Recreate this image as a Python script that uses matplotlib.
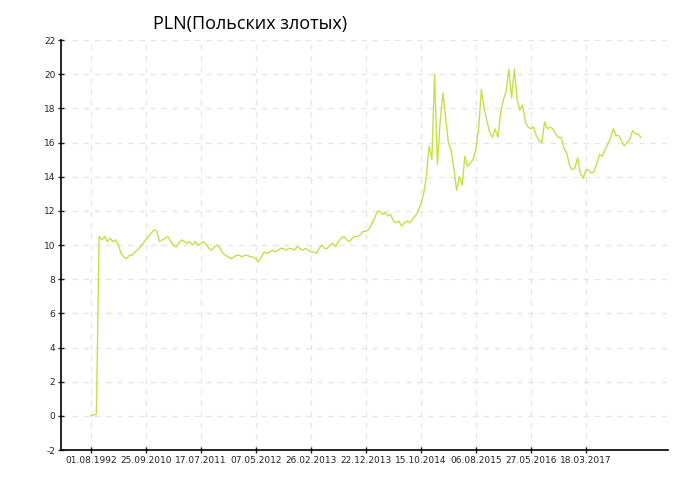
import matplotlib
matplotlib.use("Agg")
import matplotlib.pyplot as plt


# ------------------------------------------------------------
# Daten (20 Werte je Tick-Abschnitt)
# ------------------------------------------------------------
TITLE = "PLN(Польских злотых)"

tick_labels = [
    "01.08.1992", "25.09.2010", "17.07.2011", "07.05.2012", "26.02.2013",
    "22.12.2013", "15.10.2014", "06.08.2015", "27.05.2016", "18.03.2017",
]

seg_1 = [0.0, 0.05, 0.1, 10.5, 10.3, 10.5, 10.2, 10.4, 10.2, 10.3,
         10.0, 9.5, 9.3, 9.2, 9.4, 9.4, 9.6, 9.7, 9.9, 10.1]
seg_2 = [10.3, 10.5, 10.7, 10.9, 10.8, 10.2, 10.3, 10.4, 10.5, 10.2,
         10.0, 9.9, 10.1, 10.3, 10.2, 10.1, 10.2, 10.0, 10.2, 10.0]
seg_3 = [10.1, 10.2, 10.0, 9.8, 9.7, 9.9, 10.0, 9.8, 9.5, 9.4,
         9.3, 9.2, 9.3, 9.4, 9.4, 9.3, 9.4, 9.4, 9.3, 9.3]
seg_4 = [9.2, 9.0, 9.3, 9.6, 9.5, 9.6, 9.7, 9.6, 9.7, 9.8,
         9.8, 9.7, 9.8, 9.8, 9.7, 9.9, 9.8, 9.7, 9.8, 9.7]
seg_5 = [9.6, 9.6, 9.5, 9.8, 10.0, 9.8, 9.8, 10.0, 10.1, 9.9,
         10.2, 10.4, 10.5, 10.3, 10.2, 10.4, 10.5, 10.5, 10.6, 10.8]
seg_6 = [10.8, 10.9, 11.2, 11.5, 11.9, 12.0, 11.8, 11.9, 11.7, 11.8,
         11.4, 11.3, 11.4, 11.1, 11.3, 11.4, 11.3, 11.5, 11.7, 12.0]
seg_7 = [12.4, 13.0, 14.0, 15.8, 15.0, 20.0, 14.7, 17.2, 18.9, 17.5,
         16.0, 15.5, 14.5, 13.2, 14.0, 13.5, 15.2, 14.6, 14.8, 15.0]
seg_8 = [15.6, 16.8, 19.1, 18.0, 17.3, 16.6, 16.3, 16.8, 16.3, 17.7,
         18.5, 19.0, 20.3, 18.6, 20.3, 18.5, 17.9, 18.2, 17.2, 16.9]
seg_9 = [16.8, 16.9, 16.4, 16.1, 16.0, 17.2, 16.8, 16.9, 16.8, 16.5,
         16.3, 16.3, 15.7, 15.4, 14.7, 14.4, 14.5, 15.1, 14.2, 13.9]
seg_10 = [14.4, 14.4, 14.2, 14.3, 14.8, 15.3, 15.2, 15.6, 15.9, 16.3,
          16.8, 16.4, 16.4, 16.1, 15.8, 16.0, 16.2, 16.7, 16.5, 16.5, 16.3]

values = (seg_1 + seg_2 + seg_3 + seg_4 + seg_5
          + seg_6 + seg_7 + seg_8 + seg_9 + seg_10)
points_per_tick = 20

# ------------------------------------------------------------
# Plot
# ------------------------------------------------------------
plt.rcParams["axes.unicode_minus"] = False

fig = plt.figure(figsize=(7, 5), dpi=100)
ax = fig.add_axes([0.087, 0.10, 0.867, 0.82])

ax.plot(range(len(values)), values, color="#bedd35", linewidth=1.0, alpha=0.9)

ax.set_xlim(-10.9, 209.8)
ax.set_ylim(-2, 22)
ax.set_yticks(range(-2, 23, 2))
ax.set_xticks([i * points_per_tick for i in range(len(tick_labels))])
ax.set_xticklabels(tick_labels)

ax.grid(True, color="#e6e6e6", linestyle=(0, (4, 4)), linewidth=1)
ax.set_axisbelow(True)

for side in ["top", "right"]:
    ax.spines[side].set_visible(False)
for side in ["left", "bottom"]:
    ax.spines[side].set_color("black")
    ax.spines[side].set_linewidth(1.2)

ax.tick_params(axis="both", labelsize=6.5, colors="#222222", length=4, width=1,
               direction="inout", pad=2)

fig.text(250 / 700, 1 - 24 / 500, TITLE, ha="center", va="center",
         fontsize=13, family=["Open Sans", "DejaVu Sans"], color="black")

fig.savefig("out.png", dpi=100, facecolor="white")
